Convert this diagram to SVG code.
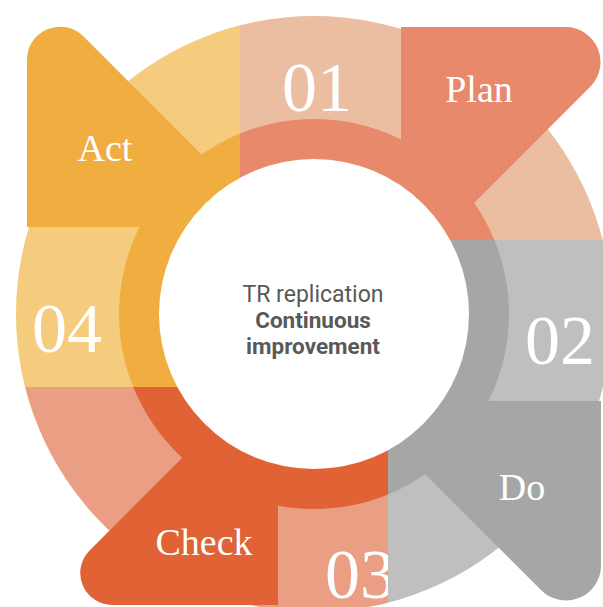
<svg xmlns="http://www.w3.org/2000/svg" width="603" height="607" viewBox="0 0 603 607">
<style>
.num{font-family:"Liberation Serif","Times New Roman",serif;font-size:70px;fill:#ffffff;text-anchor:middle}
.lbl{font-family:"Liberation Serif","Times New Roman",serif;font-size:38px;fill:#ffffff;text-anchor:middle}
.ctr{font-family:Roboto,"Liberation Sans",Arial,sans-serif;font-size:23px;fill:#595959;text-anchor:middle}
.ctrb{font-family:Roboto,"Liberation Sans",Arial,sans-serif;font-size:22.5px;font-weight:bold;fill:#595959;text-anchor:middle}
</style>
<defs>
<clipPath id="cAct"><polygon points="240,387 -100,387 -100,-100 240,-100 240,240"/></clipPath>
<clipPath id="cPlan"><polygon points="240,240 240,-100 700,-100 700,240 388,240"/></clipPath>
<clipPath id="cDo"><polygon points="388,240 700,240 700,700 388,700 388,387"/></clipPath>
<clipPath id="cCheck"><polygon points="388,387 388,700 -100,700 -100,387 240,387"/></clipPath>
</defs>
<rect width="603" height="607" fill="#ffffff"/>
<g id="act">
<circle cx="314" cy="314" r="298" fill="#F5CC7E" clip-path="url(#cAct)"/>
<path d="M27 227 L27 59.67 A33 33 0 0 1 83.33 36.33 L230 183 L205 227 Z" fill="#EFAE3F"/>
<circle cx="314" cy="314" r="195" fill="#EFAE3F" clip-path="url(#cAct)"/>
<text class="lbl" x="105" y="161">Act</text>
<text class="num" x="67" y="352">04</text>
</g>
<g id="plan">
<circle cx="314" cy="314" r="298" fill="#EBBEA2" clip-path="url(#cPlan)"/>
<path d="M401 27 L565.5 27 A35 35 0 0 1 590.25 86.75 L460 217 L401 217 Z" fill="#E8896B"/>
<circle cx="314" cy="314" r="195" fill="#E8896B" clip-path="url(#cPlan)"/>
<text class="lbl" x="479" y="102">Plan</text>
<text class="num" x="317" y="111">01</text>
</g>
<g id="check">
<circle cx="314" cy="314" r="298" fill="#EA9E83" clip-path="url(#cCheck)"/>
<path d="M278 605 L112.25 605 A32 32 0 0 1 89.6 550.4 L200 440 L278 440 Z" fill="#E06235"/>
<circle cx="314" cy="314" r="195" fill="#E06235" clip-path="url(#cCheck)"/>
<text class="lbl" x="204" y="555">Check</text>
<text class="num" x="360" y="598">03</text>
</g>
<g id="do">
<circle cx="314" cy="314" r="298" fill="#BFBFBF" clip-path="url(#cDo)"/>
<path d="M601 401 L601 565.5 A35 35 0 0 1 541.25 590.25 L411 460 L411 401 Z" fill="#A6A6A6"/>
<circle cx="314" cy="314" r="195" fill="#A6A6A6" clip-path="url(#cDo)"/>
<text class="lbl" x="522" y="500">Do</text>
<text class="num" x="560" y="364">02</text>
</g>
<g id="center">
<circle cx="314" cy="314" r="155" fill="#ffffff"/>
<text class="ctr" x="313" y="302">TR replication</text>
<text class="ctrb" x="313" y="328">Continuous</text>
<text class="ctrb" x="313" y="354">improvement</text>
</g>
<g id="connectors"/>
</svg>
